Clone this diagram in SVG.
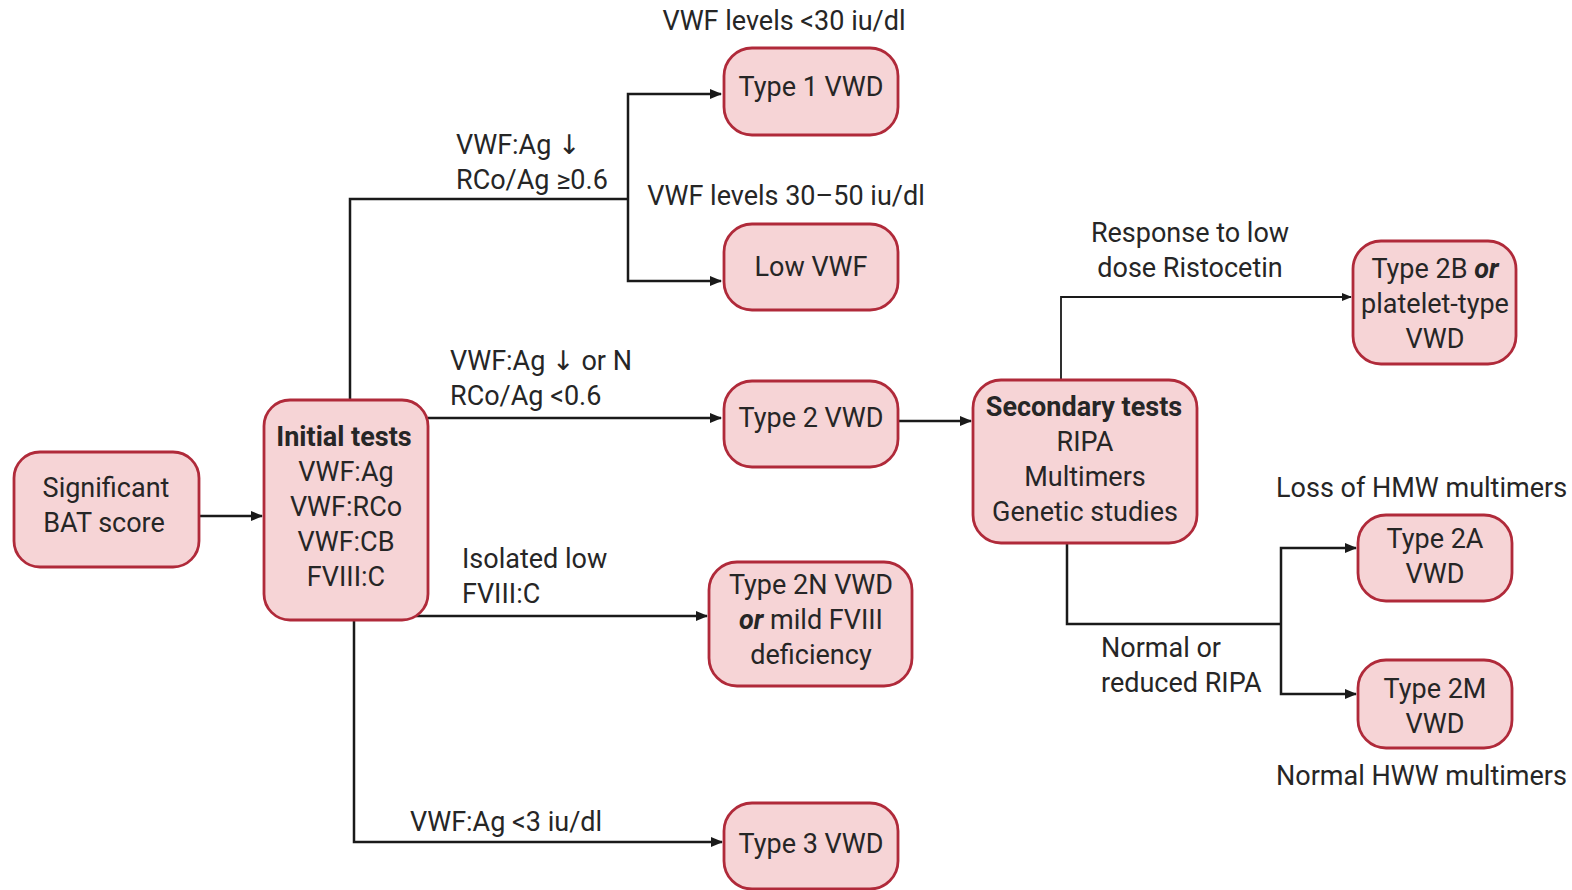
<svg xmlns="http://www.w3.org/2000/svg" width="1572" height="890" viewBox="0 0 1572 890">
  <defs>
    <marker id="arrow" viewBox="0 0 12 10" refX="11" refY="5" markerWidth="12" markerHeight="10" markerUnits="userSpaceOnUse" orient="auto">
      <path d="M0,0 L12,5 L0,10 Z" fill="#1a1a1a"/>
    </marker>
    <marker id="arrow-sm" viewBox="0 0 10 8" refX="9" refY="4" markerWidth="10" markerHeight="8" markerUnits="userSpaceOnUse" orient="auto">
      <path d="M0,0 L10,4 L0,8 Z" fill="#1a1a1a"/>
    </marker>
  </defs>
  <style>
    .box { fill: #f6d4d6; stroke: #b02a3a; stroke-width: 2.8; }
    .t { font-family: Roboto, "Liberation Sans", sans-serif; font-size: 27px; fill: #262626; }
    .c { text-anchor: middle; }
    .b { font-weight: bold; }
    .bi { font-weight: bold; font-style: italic; }
    .arr { font-family: "DejaVu Sans", sans-serif; }
    .edge { fill: none; stroke: #1a1a1a; stroke-width: 2.5; }
    .thin { fill: none; stroke: #1a1a1a; stroke-width: 1.8; }
  </style>
  <rect width="1572" height="890" fill="#ffffff"/>

  <!-- connectors -->
  <g id="connectors">
    <path class="edge" d="M199,516 H262" marker-end="url(#arrow)"/>
    <path class="edge" d="M350,400 V199 H628"/>
    <path class="edge" d="M628,199 V94 H721" marker-end="url(#arrow)"/>
    <path class="edge" d="M628,199 V281 H721" marker-end="url(#arrow)"/>
    <path class="edge" d="M428,418 H721" marker-end="url(#arrow)"/>
    <path class="edge" d="M416,616 H707" marker-end="url(#arrow)"/>
    <path class="edge" d="M354,620 V842 H722" marker-end="url(#arrow)"/>
    <path class="edge" d="M898,421 H971" marker-end="url(#arrow)"/>
    <path class="thin" d="M1061,380 V297 H1351" marker-end="url(#arrow-sm)"/>
    <path class="edge" d="M1067,543 V624 H1281"/>
    <path class="edge" d="M1281,624 V548 H1356" marker-end="url(#arrow)"/>
    <path class="edge" d="M1281,624 V694 H1356" marker-end="url(#arrow)"/>
  </g>

  <!-- connector labels -->
  <g id="labels">
    <text class="t c" x="784" y="30">VWF levels &lt;30 iu/dl</text>
    <text class="t" x="456" y="154">VWF:Ag <tspan class="arr">↓</tspan></text>
    <text class="t" x="456" y="189">RCo/Ag ≥0.6</text>
    <text class="t c" x="786" y="205">VWF levels 30–50 iu/dl</text>
    <text class="t" x="450" y="370">VWF:Ag <tspan class="arr">↓</tspan> or N</text>
    <text class="t" x="450" y="405">RCo/Ag &lt;0.6</text>
    <text class="t" x="462" y="568">Isolated low</text>
    <text class="t" x="462" y="603">FVIII:C</text>
    <text class="t" x="410" y="831">VWF:Ag &lt;3 iu/dl</text>
    <text class="t c" x="1190" y="242">Response to low</text>
    <text class="t c" x="1190" y="277">dose Ristocetin</text>
    <text class="t" x="1276" y="497">Loss of HMW multimers</text>
    <text class="t" x="1101" y="657">Normal or</text>
    <text class="t" x="1101" y="692">reduced RIPA</text>
    <text class="t" x="1276" y="785">Normal HWW multimers</text>
  </g>

  <!-- nodes -->
  <g id="bat">
    <rect class="box" x="14" y="452" width="185" height="115" rx="26"/>
    <text class="t c" x="106" y="497">Significant</text>
    <text class="t c" x="104" y="532">BAT score</text>
  </g>
  <g id="initial">
    <rect class="box" x="264" y="400" width="164" height="220" rx="26"/>
    <text class="t c b" x="344" y="446">Initial tests</text>
    <text class="t c" x="346" y="481">VWF:Ag</text>
    <text class="t c" x="346" y="516">VWF:RCo</text>
    <text class="t c" x="346" y="551">VWF:CB</text>
    <text class="t c" x="346" y="586">FVIII:C</text>
  </g>
  <g id="type1">
    <rect class="box" x="724" y="48" width="174" height="87" rx="28"/>
    <text class="t c" x="811" y="96">Type 1 VWD</text>
  </g>
  <g id="lowvwf">
    <rect class="box" x="724" y="224" width="174" height="86" rx="28"/>
    <text class="t c" x="811" y="276">Low VWF</text>
  </g>
  <g id="type2">
    <rect class="box" x="724" y="381" width="174" height="86" rx="28"/>
    <text class="t c" x="811" y="427">Type 2 VWD</text>
  </g>
  <g id="type2n">
    <rect class="box" x="709" y="562" width="203" height="124" rx="28"/>
    <text class="t c" x="811" y="594">Type 2N VWD</text>
    <text class="t c" x="811" y="629"><tspan class="bi">or</tspan> mild FVIII</text>
    <text class="t c" x="811" y="664">deficiency</text>
  </g>
  <g id="type3">
    <rect class="box" x="724" y="803" width="174" height="86" rx="28"/>
    <text class="t c" x="811" y="853">Type 3 VWD</text>
  </g>
  <g id="secondary">
    <rect class="box" x="973" y="380" width="224" height="163" rx="28"/>
    <text class="t c b" x="1084" y="416">Secondary tests</text>
    <text class="t c" x="1085" y="451">RIPA</text>
    <text class="t c" x="1085" y="486">Multimers</text>
    <text class="t c" x="1085" y="521">Genetic studies</text>
  </g>
  <g id="type2b">
    <rect class="box" x="1353" y="241" width="163" height="123" rx="28"/>
    <text class="t c" x="1435" y="278">Type 2B <tspan class="bi">or</tspan></text>
    <text class="t c" x="1435" y="313">platelet-type</text>
    <text class="t c" x="1435" y="348">VWD</text>
  </g>
  <g id="type2a">
    <rect class="box" x="1358" y="515" width="154" height="86" rx="28"/>
    <text class="t c" x="1435" y="548">Type 2A</text>
    <text class="t c" x="1435" y="583">VWD</text>
  </g>
  <g id="type2m">
    <rect class="box" x="1358" y="660" width="154" height="88" rx="28"/>
    <text class="t c" x="1435" y="698">Type 2M</text>
    <text class="t c" x="1435" y="733">VWD</text>
  </g>
</svg>
